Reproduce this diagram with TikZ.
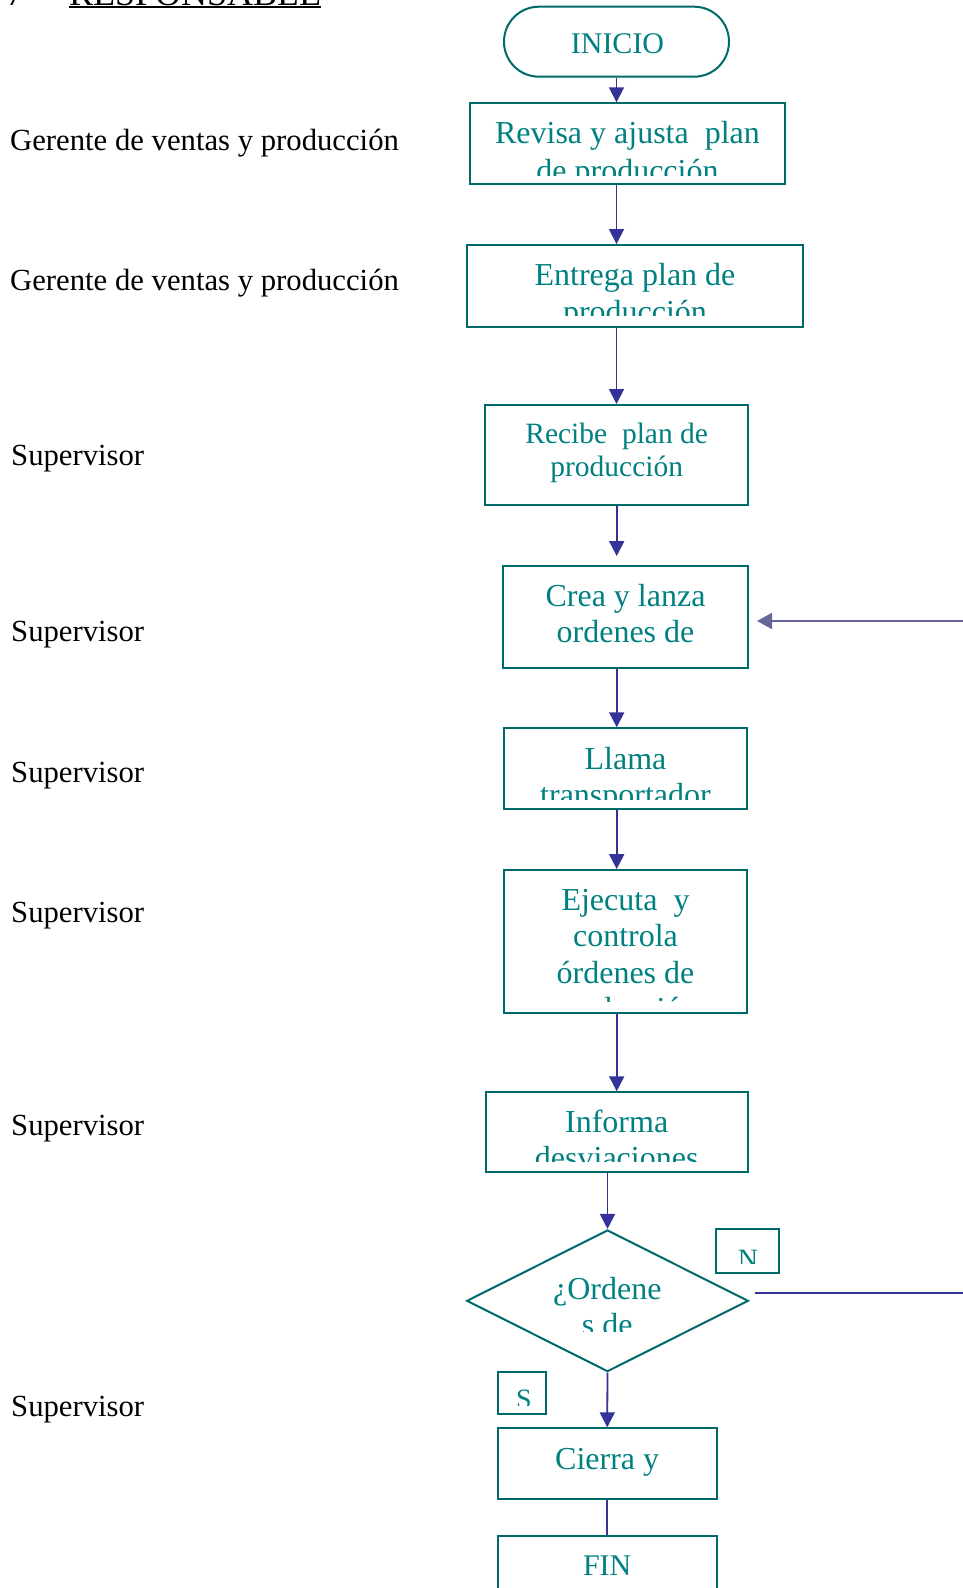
\documentclass[tikz,border=0pt]{standalone}
\usepackage{fontspec}
\setmainfont{Liberation Serif}
\usetikzlibrary{arrows.meta,shapes.geometric}

\definecolor{boxline}{RGB}{0,105,105}
\definecolor{boxink}{RGB}{0,128,128}
\definecolor{flow}{RGB}{51,51,153}
\definecolor{loopback}{RGB}{102,102,153}

\begin{document}
\begin{tikzpicture}[x=1pt,y=-1pt,
  stepbox/.style={draw=boxline,line width=2pt,rectangle,inner sep=0pt},
  terminal/.style={stepbox,rounded corners=34.9pt},
  decision/.style={draw=boxline,line width=2pt,diamond,inner sep=0pt},
  boxtext/.style={text=boxink,inner sep=0pt,anchor=base,font=\fontsize{32}{38}\selectfont},
  smalltext/.style={boxtext,font=\fontsize{29.5}{35}\selectfont},
  endtext/.style={boxtext,font=\fontsize{30}{36}\selectfont},
  marktext/.style={boxtext,font=\fontsize{28}{34}\selectfont},
  role/.style={anchor=base west,inner sep=0pt,font=\fontsize{30.7}{36}\selectfont},
  heading/.style={anchor=base west,inner sep=0pt,font=\fontsize{36}{42}\selectfont},
  flowarrow/.style={draw=flow,line width=1.8pt,-{Triangle[length=15pt,width=15pt]}},
  flowline/.style={draw=flow,line width=1.8pt},
  backarrow/.style={draw=loopback,line width=1.8pt,-{Triangle[length=15pt,width=16pt]}},
]
\clip (0,0) rectangle (963,1588);

% heading of the responsibility column
\node[heading] (num) at (6,5) {7};
\node[heading] (resp) at (69,5) {RESPONSABLE};
\draw[line width=2pt] ([yshift=-2.3pt]resp.base west) -- ([yshift=-2.3pt]resp.base east);

% responsible roles
\node[role] (r1) at (10,150) {Gerente de ventas y producción};
\node[role] (r2) at (10,290.7) {Gerente de ventas y producción};
\node[role] (r3) at (11,465) {Supervisor};
\node[role] (r4) at (11,641.2) {Supervisor};
\node[role] (r5) at (11,782) {Supervisor};
\node[role] (r6) at (11,922.7) {Supervisor};
\node[role] (r7) at (11,1135.4) {Supervisor};
\node[role] (r8) at (11,1416.9) {Supervisor};

% flow shapes
\node[terminal,minimum width=225pt,minimum height=70pt] (ini) at (616.5,41.7) {};
\node[stepbox,minimum width=315pt,minimum height=81pt] (b1) at (627.5,143.8) {};
\node[stepbox,minimum width=336.6pt,minimum height=81.7pt] (b2) at (635,285.9) {};
\node[stepbox,minimum width=263.3pt,minimum height=100pt] (b3) at (616.7,455) {};
\node[stepbox,minimum width=244.4pt,minimum height=102.3pt] (b4) at (625.5,617.2) {};
\node[stepbox,minimum width=243.3pt,minimum height=81pt] (b5) at (625.7,768.8) {};
\node[stepbox,minimum width=243.3pt,minimum height=142.7pt] (b6) at (625.7,941.4) {};
\node[stepbox,minimum width=262pt,minimum height=79.4pt] (b7) at (616.7,1132) {};
\node[decision,minimum width=281.6pt,minimum height=141.7pt] (dec) at (607.5,1300.8) {};
\node[stepbox,minimum width=63.3pt,minimum height=43.4pt] (nbox) at (747.7,1251) {};
\node[stepbox,minimum width=48pt,minimum height=42.6pt] (sbox) at (521.7,1393) {};
\node[stepbox,minimum width=219pt,minimum height=71pt] (b8) at (607.2,1463.8) {};
\node[stepbox,minimum width=219pt,minimum height=70pt] (fin) at (607.2,1570.7) {};

% texts inside the shapes (cut off where the frame ends its text area)
\node[endtext] (tini) at (617.5,53.3) {INICIO};

\begin{scope}
  \clip (470,103) rectangle (785,175);
  \node[boxtext] (t1a) at (627.5,143.3) {Revisa y ajusta~~plan};
  \node[boxtext] (t1b) at (627.5,181) {de producción};
\end{scope}

\begin{scope}
  \clip (466,245) rectangle (804,315);
  \node[boxtext] (t2a) at (635,285) {Entrega plan de};
  \node[boxtext] (t2b) at (635,322) {producción};
\end{scope}

\node[smalltext] (t3a) at (616.7,443.3) {Recibe~~plan de};
\node[smalltext] (t3b) at (616.7,476.7) {producción};

\node[boxtext] (t4a) at (625.5,606.7) {Crea y lanza};
\node[boxtext] (t4b) at (625.5,642.7) {ordenes de};

\begin{scope}
  \clip (504,728) rectangle (748,799.3);
  \node[boxtext] (t5a) at (625.5,769) {Llama};
  \node[boxtext] (t5b) at (625.5,805) {transportador};
\end{scope}

\begin{scope}
  \clip (504,870) rectangle (748,1001.7);
  \node[boxtext] (t6a) at (625.5,910.7) {Ejecuta~~y};
  \node[boxtext] (t6b) at (625.5,946.7) {controla};
  \node[boxtext] (t6c) at (625.5,983) {órdenes de};
  \node[boxtext] (t6d) at (625.5,1019.5) {producción};
\end{scope}

\begin{scope}
  \clip (486,1092) rectangle (748,1161.7);
  \node[boxtext] (t7a) at (616.7,1132.3) {Informa};
  \node[boxtext] (t7b) at (616.7,1168.3) {desviaciones};
\end{scope}

\begin{scope}
  \clip (466,1230) rectangle (749,1331.7);
  \node[boxtext] (tda) at (607.3,1299.3) {¿Ordene};
  \node[boxtext] (tdb) at (607.3,1335.3) {s de};
\end{scope}

\begin{scope}
  \clip (716,1229) rectangle (780,1263.3);
  \node[marktext] (tn) at (748,1268) {N};
\end{scope}

\begin{scope}
  \clip (497,1371) rectangle (546,1405);
  \node[marktext] (ts) at (524,1408.5) {S};
\end{scope}

\node[boxtext] (t8a) at (607.2,1469.3) {Cierra y};
\node[endtext] (tfin) at (607.2,1575) {FIN};

% connectors
\draw[flowarrow] (ini.south) -- (ini.south |- b1.north);
\draw[flowarrow] (b1.south -| ini.south) -- (b2.north -| ini.south);
\draw[flowarrow] (b2.south -| ini.south) -- (b3.north -| ini.south);
\draw[flowarrow,shorten >=9pt] (b3.south) -- (b3.south |- b4.north);
\draw[flowarrow] (b4.south -| b3.south) -- (b5.north -| b3.south);
\draw[flowarrow] (b5.south -| b3.south) -- (b6.north -| b3.south);
\draw[flowarrow] (b6.south -| b3.south) -- (b7.north -| b3.south);
\draw[flowarrow] (b7.south -| dec.north) -- (dec.north);
\draw[flowarrow] (dec.south) -- (b8.north);
\draw[flowline] (b8.south) -- (fin.north);

% "no" branch leaving the decision and the return into step 4
\coordinate (nstart) at (755,1293.3);
\coordinate (nend) at (963,1293.3);
\draw[flowline] (nstart) -- (nend);
\coordinate (back) at (963,621);
\draw[backarrow,shorten >=8.3pt] (back) -- (b4.east |- back);
\end{tikzpicture}
\end{document}
